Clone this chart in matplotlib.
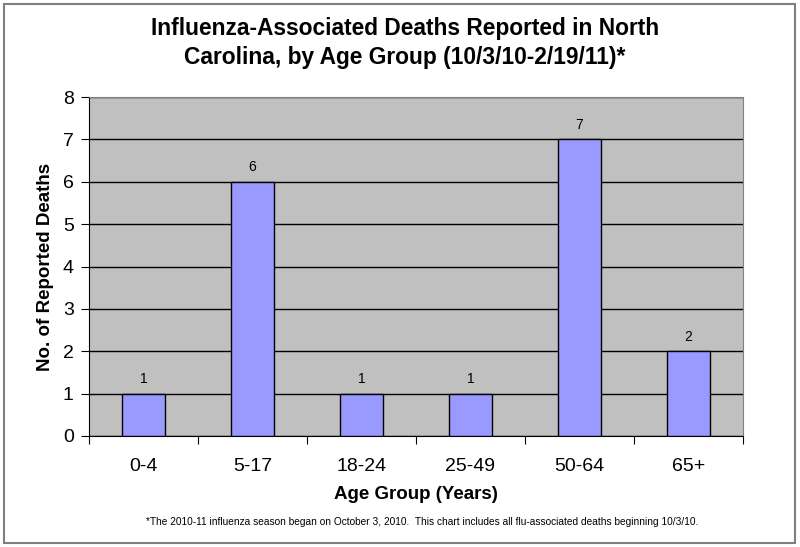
import matplotlib.pyplot as plt
from matplotlib.patches import Rectangle

plt.rcParams['font.family'] = ['Liberation Sans', 'DejaVu Sans']

groups = ["0-4", "5-17", "18-24", "25-49", "50-64", "65+"]
deaths = [1, 6, 1, 1, 7, 2]
yticks = [0, 1, 2, 3, 4, 5, 6, 7, 8]

fig = plt.figure(figsize=(8, 5.47), dpi=100)
ax = fig.add_axes([89/800, 1-436/547, (743-89)/800, (436-97)/547])
ax.set_facecolor("#C0C0C0")

x = list(range(len(groups)))
ax.bar(x, deaths, width=0.39, color="#9999FF", edgecolor="black", linewidth=1, zorder=3)
for xi, v in zip(x, deaths):
    ax.text(xi, v + 0.18, str(v), ha="center", va="bottom", fontsize=10, zorder=4)

ax.set_xlim(-0.5, len(groups) - 0.5)
ax.set_ylim(0, 8)
ax.set_yticks(yticks)
ax.yaxis.grid(True, color="black", linewidth=1, zorder=1)
ax.set_axisbelow(True)

ax.set_xticks([i - 0.5 for i in range(len(groups) + 1)], minor=False)
ax.set_xticklabels([])
ax.set_xticks(x, minor=True)
ax.set_xticklabels(groups, minor=True, fontsize=14)
ax.tick_params(axis="x", which="minor", length=0, pad=16)
ax.tick_params(axis="x", which="major", length=6, direction="out", color="black")
ax.tick_params(axis="y", length=6, direction="out", labelsize=14, pad=5)

for s in ["top", "right"]:
    ax.spines[s].set_color("#808080")
for s in ["left", "bottom"]:
    ax.spines[s].set_color("black")

ax.set_xlabel("Age Group (Years)", fontsize=13.5, fontweight="bold", labelpad=8)
ax.set_ylabel("No. of Reported Deaths", fontsize=13.5, fontweight="bold", labelpad=6)

fig.text(0.506, 1 - 43/547, "Influenza-Associated Deaths Reported in North\nCarolina, by Age Group (10/3/10-2/19/11)*",
         ha="center", va="center", fontsize=16.4, fontweight="bold", linespacing=1.3)
fig.text(0.528, 1 - 522/547,
         "*The 2010-11 influenza season began on October 3, 2010.  This chart includes all flu-associated deaths beginning 10/3/10.",
         ha="center", va="center", fontsize=7.3)

fig.patches.append(Rectangle((4/800, 1-543/547), 791/800, 539/547, transform=fig.transFigure,
                             fill=False, edgecolor="#808080", linewidth=1.5))

fig.savefig("out.png", dpi=100)
